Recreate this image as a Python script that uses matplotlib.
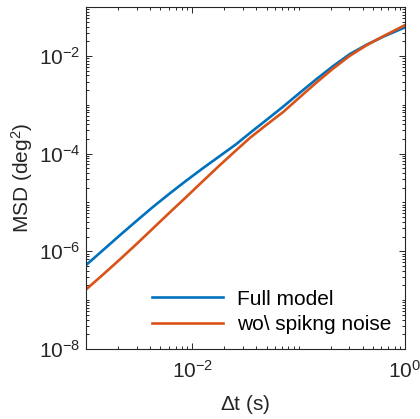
import numpy as np
import matplotlib.pyplot as plt
from matplotlib.ticker import LogLocator, NullFormatter

plt.rcParams['font.family'] = ['Liberation Sans', 'DejaVu Sans']
plt.rcParams['mathtext.fontset'] = 'custom'
plt.rcParams['mathtext.rm'] = 'Liberation Sans'
plt.rcParams['mathtext.it'] = 'Liberation Sans:italic'

# log10 of time lag (s)
log_dt = [-3.0, -2.843, -2.687, -2.53, -2.373, -2.216, -2.059, -1.902, -1.746, -1.59,
          -1.457, -1.30, -1.144, -0.987, -0.830, -0.674, -0.517, -0.36, -0.203, 0.0]
# log10 of MSD (deg^2), full model
log_msd_full = [-6.28, -5.98, -5.68, -5.385, -5.095, -4.82, -4.555, -4.30, -4.055, -3.81,
                -3.575, -3.305, -3.035, -2.75, -2.47, -2.205, -1.96, -1.77, -1.605, -1.415]
# log10 of MSD (deg^2), without spiking noise
log_msd_nospike = [-6.78, -6.48, -6.175, -5.86, -5.535, -5.21, -4.89, -4.565, -4.245, -3.935,
                   -3.675, -3.405, -3.145, -2.84, -2.54, -2.255, -1.995, -1.78, -1.595, -1.37]

dt = 10.0 ** np.array(log_dt)
msd_full = 10.0 ** np.array(log_msd_full)
msd_nospike = 10.0 ** np.array(log_msd_nospike)

fig = plt.figure(figsize=(4.2, 4.19), dpi=100)
ax = fig.add_axes([0.205, 0.167, 0.759, 0.816])

ax.loglog(dt, msd_full, color='#0072BD', lw=1.9, label='Full model')
ax.loglog(dt, msd_nospike, color='#D95319', lw=1.9, label='wo\\ spikng noise')

ax.set_xlim(1e-3, 1)
ax.set_ylim(1e-8, 1e-1)
ax.set_xticks([1e-2, 1])
ax.set_yticks([1e-8, 1e-6, 1e-4, 1e-2])
ax.xaxis.set_minor_locator(LogLocator(base=10, subs=np.arange(1, 10), numticks=20))
ax.yaxis.set_minor_locator(LogLocator(base=10, subs=np.arange(1, 10), numticks=20))
ax.xaxis.set_minor_formatter(NullFormatter())
ax.yaxis.set_minor_formatter(NullFormatter())

grey = '#262626'
for s in ax.spines.values():
    s.set_color(grey)
    s.set_linewidth(0.8)
ax.tick_params(which='both', direction='in', top=True, right=True, colors=grey,
               labelsize=15, width=0.7)
ax.tick_params(which='major', length=4.5)
ax.tick_params(which='minor', length=2.5)
ax.tick_params(axis='x', pad=8)
ax.tick_params(axis='y', pad=4)

ax.set_xlabel(r'$\Delta$t (s)', fontsize=15, color=grey, labelpad=8)
ax.set_ylabel(r'MSD (deg$^2$)', fontsize=15, color=grey, labelpad=3)

leg = ax.legend(loc='lower right', frameon=False, fontsize=15, handlelength=3.4,
                handletextpad=0.7, labelspacing=0.3, borderaxespad=0,
                bbox_to_anchor=(0.985, 0.02))
for t in leg.get_texts():
    t.set_color('black')

fig.savefig('out.png', dpi=100)
